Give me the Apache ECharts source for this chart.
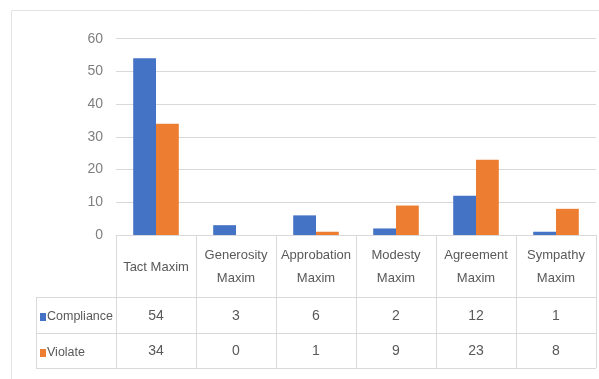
<!DOCTYPE html>
<html>
<head>
<meta charset="utf-8">
<script src="https://cdn.jsdelivr.net/npm/echarts@6/dist/echarts.min.js"></script>
<style>
html,body{margin:0;padding:0;background:#fff;}
#c{width:599px;height:379px;}
</style>
</head>
<body>
<div id="c"></div>
<script>
var categories = ['Tact Maxim', 'Generosity\nMaxim', 'Approbation\nMaxim', 'Modesty\nMaxim', 'Agreement\nMaxim', 'Sympathy\nMaxim'];
var compliance = [54, 3, 6, 2, 12, 1];
var violate = [34, 0, 1, 9, 23, 8];
var seriesNames = ['Compliance', 'Violate'];
var yTicks = { min: 0, max: 60, interval: 10 };

var FONT = '"Liberation Sans", Arial, sans-serif';
var TXT = '#595959';
var LINE = '#d9d9d9';

var chart = echarts.init(document.getElementById('c'), null, { renderer: 'canvas' });

var option = {
  animation: false,
  backgroundColor: '#fff',
  textStyle: { fontFamily: FONT },
  grid: { left: 116, right: 3, top: 38.7, bottom: 144, containLabel: false },
  legend: {
    data: seriesNames,
    orient: 'vertical',
    left: 35,
    top: 304,
    itemWidth: 6,
    itemHeight: 8,
    itemGap: 20,
    icon: 'rect',
    textStyle: { fontFamily: FONT, fontSize: 12.5, color: TXT, lineHeight: 16, padding: [0, 0, 0, -4] }
  },
  xAxis: [
    {
      type: 'category',
      data: categories,
      gridIndex: 0,
      axisLine: { show: true, lineStyle: { color: LINE, width: 1 } },
      axisTick: { show: true, length: 133, lineStyle: { color: LINE, width: 1 } },
      axisLabel: {
        interval: 0, margin: 32, verticalAlign: 'middle', align: 'center',
        fontFamily: FONT, fontSize: 13, color: TXT, lineHeight: 23
      }
    },
    {
      type: 'category',
      data: categories,
      gridIndex: 0,
      position: 'bottom',
      axisLine: { show: false },
      axisTick: { show: false },
      axisLabel: {
        interval: 0, margin: 81, verticalAlign: 'middle', align: 'center',
        fontFamily: FONT, fontSize: 14, color: TXT,
        formatter: function (v, i) { return String(compliance[i]); }
      }
    },
    {
      type: 'category',
      data: categories,
      gridIndex: 0,
      position: 'bottom',
      axisLine: { show: false },
      axisTick: { show: false },
      axisLabel: {
        interval: 0, margin: 116, verticalAlign: 'middle', align: 'center',
        fontFamily: FONT, fontSize: 14, color: TXT,
        formatter: function (v, i) { return String(violate[i]); }
      }
    }
  ],
  yAxis: {
    type: 'value',
    min: yTicks.min, max: yTicks.max, interval: yTicks.interval,
    axisLine: { show: false },
    axisTick: { show: false },
    splitLine: { show: true, lineStyle: { color: LINE, width: 1 } },
    axisLabel: { margin: 13, fontFamily: FONT, fontSize: 14, color: '#7f7f7f' }
  },
  series: [
    {
      name: seriesNames[0], type: 'bar', data: compliance,
      xAxisIndex: 0, itemStyle: { color: '#4472C4' },
      barGap: '0%', barCategoryGap: '43%'
    },
    {
      name: seriesNames[1], type: 'bar', data: violate,
      xAxisIndex: 0, itemStyle: { color: '#ED7D31' },
      barGap: '0%', barCategoryGap: '43%'
    }
  ]
};
chart.setOption(option);

// table lines below the category header, derived from the axis scales
var c0 = chart.convertToPixel({ xAxisIndex: 0 }, 0);
var c1 = chart.convertToPixel({ xAxisIndex: 0 }, 1);
var step = c1 - c0;
var xLeft = c0 - step / 2;
var xRight = xLeft + step * categories.length;
var y0 = chart.convertToPixel({ yAxisIndex: 0 }, 0);
var rowYs = [y0 + 62, y0 + 98, y0 + 133];
var legendLeft = 36;
var lineStyle = { stroke: LINE, lineWidth: 1 };
var g = [];
rowYs.forEach(function (y) {
  g.push({ type: 'line', shape: { x1: legendLeft, y1: Math.round(y) + 0.5, x2: xRight, y2: Math.round(y) + 0.5 }, style: lineStyle, silent: true });
});
g.push({ type: 'line', shape: { x1: legendLeft + 0.5, y1: Math.round(rowYs[0]), x2: legendLeft + 0.5, y2: Math.round(rowYs[2]) + 1 }, style: lineStyle, silent: true });
g.push({ type: 'rect', shape: { x: 11.5, y: 10.5, width: 640, height: 420 }, style: { fill: 'none', stroke: '#e3e3e3', lineWidth: 1 }, silent: true, z: -1 });
chart.setOption({ graphic: g });
</script>
</body>
</html>
